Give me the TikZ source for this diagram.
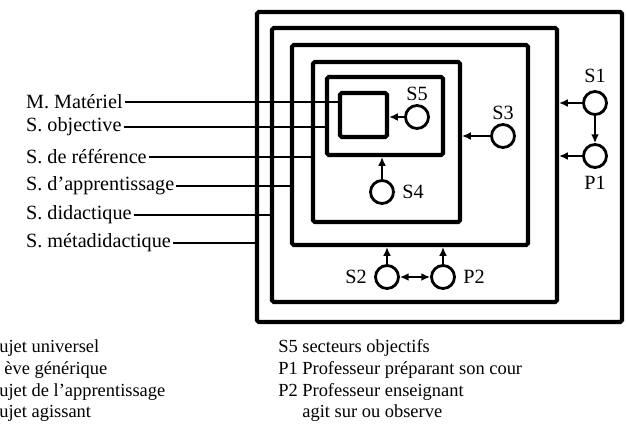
\documentclass[tikz,border=0pt]{standalone}
\usepackage{fontspec}
\setmainfont{Liberation Serif}
\usetikzlibrary{positioning}
\usetikzlibrary{fit}
\usetikzlibrary{arrows.meta}

\begin{document}
\begin{tikzpicture}[x=0.02cm, y=-0.02cm,
        boite/.style={draw, line width=2.3pt, rounded corners=1pt, inner sep=0pt},
        sujet/.style={draw, circle, line width=1.6pt, minimum size=0.46cm, inner sep=0pt},
        renvoi/.style={line width=1.4pt},
        fleche/.style={line width=1.2pt, -{Latex[length=5pt,width=4.5pt]}},
        double/.style={line width=1.2pt, {Latex[length=5pt,width=4.5pt]}-{Latex[length=5pt,width=4.5pt]}},
        etiq/.style={font=\fontsize{11.5}{13}\selectfont, inner sep=1pt},
        legende/.style={font=\fontsize{10.5}{12}\selectfont, anchor=base west, inner sep=0pt}]
    \useasboundingbox (0,0) rectangle (628,447);

    % nested situations
    \node[boite, fit={(257,12) (622,322)}] (b1) {};
    \node[boite, fit={(272,28) (557,302)}] (b2) {};
    \node[boite, fit={(292,45) (528,245)}] (b3) {};
    \node[boite, fit={(313,62) (460,222)}] (b4) {};
    \node[boite, fit={(327,77) (443,155)}] (b5) {};
    \node[boite, fit={(340,93) (387,137)}] (b6) {};

    % names of the situations
    \node[etiq, anchor=west] (lmat) at (24,102) {M. Matériel};
    \node[etiq, anchor=west] (lobj) at (24,127) {S. objective};
    \node[etiq, anchor=west] (lref) at (24,157) {S. de référence};
    \node[etiq, anchor=west] (lapp) at (24,186) {S. d'apprentissage};
    \node[etiq, anchor=west] (ldid) at (24,215) {S. didactique};
    \node[etiq, anchor=west] (lmeta) at (24,243) {S. métadidactique};

    \draw[renvoi] (lmat.east) -- (lmat.east -| b6.west);
    \draw[renvoi] (lobj.east) -- (lobj.east -| b5.west);
    \draw[renvoi] (lref.east) -- (lref.east -| b4.west);
    \draw[renvoi] (lapp.east) -- (lapp.east -| b3.west);
    \draw[renvoi] (ldid.east) -- (ldid.east -| b2.west);
    \draw[renvoi] (lmeta.east) -- (lmeta.east -| b1.west);

    % subjects
    \node[sujet] (s5) at (417,117) {};
    \node[etiq, above=1pt of s5] (ls5) {S5};
    \draw[fleche] (s5) -- (s5 -| b6.east);

    \node[sujet] (s3) at (503,136) {};
    \node[etiq, above=1pt of s3] (ls3) {S3};
    \draw[fleche] (s3) -- (s3 -| b4.east);

    \node[sujet] (s4) at (382,192) {};
    \node[etiq, right=3pt of s4] (ls4) {S4};
    \draw[fleche] (s4) -- (s4 |- b5.south);

    \node[sujet] (s1) at (595,103) {};
    \node[etiq, above=3pt of s1] (ls1) {S1};
    \node[sujet] (p1) at (595,156) {};
    \node[etiq, below=3pt of p1] (lp1) {P1};
    \draw[fleche] (s1) -- (s1 -| b2.east);
    \draw[fleche] (p1) -- (p1 -| b2.east);
    \draw[fleche] (s1) -- (p1);

    \node[sujet] (s2) at (387,277) {};
    \node[etiq, left=3pt of s2] (ls2) {S2};
    \node[sujet] (p2) at (443,277) {};
    \node[etiq, right=3pt of p2] (lp2) {P2};
    \draw[double] (s2) -- (p2);
    \draw[fleche] (s2) -- (s2 |- b3.south);
    \draw[fleche] (p2) -- (p2 |- b3.south);

    % legend
    \node[legende] (g1) at (-1,352) {ujet universel};
    \node[legende] (g2) at (4,374) {ève générique};
    \node[legende] (g3) at (-1,396) {ujet de l'apprentissage};
    \node[legende] (g4) at (-1,417) {ujet agissant};

    \node[legende] (k5) at (278,352) {S5};
    \node[legende] (t5) at (302,352) {secteurs objectifs};
    \node[legende] (kp1) at (278,374) {P1};
    \node[legende] (tp1) at (302,374) {Professeur préparant son cour};
    \node[legende] (kp2) at (278,396) {P2};
    \node[legende] (tp2) at (302,396) {Professeur enseignant};
    \node[legende] (tp2b) at (302,417) {agit sur ou observe};
\end{tikzpicture}
\end{document}
